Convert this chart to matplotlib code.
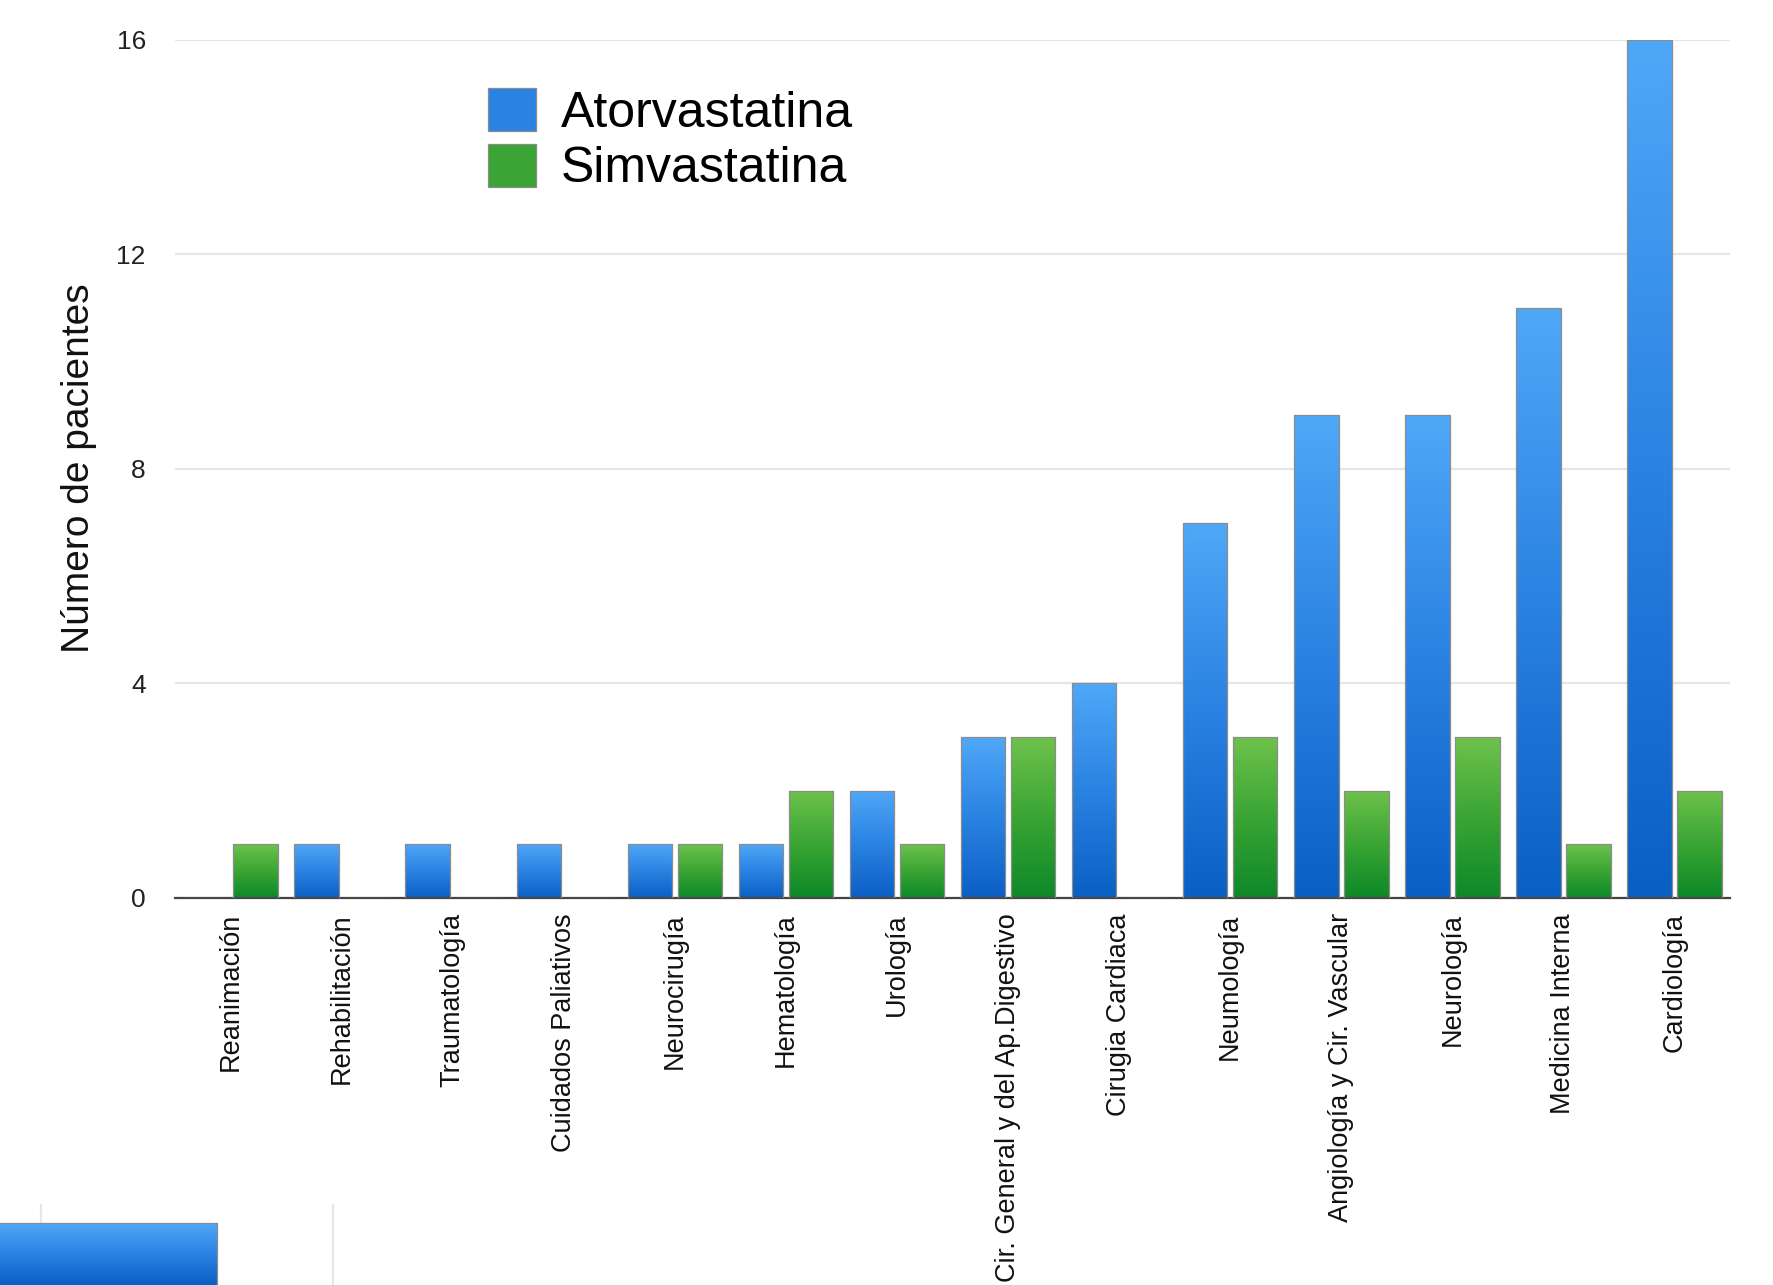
import numpy as np
import matplotlib.pyplot as plt
from matplotlib.colors import LinearSegmentedColormap
from matplotlib.patches import Patch
from matplotlib.lines import Line2D

servicios = ["Reanimación", "Rehabilitación", "Traumatología", "Cuidados Paliativos",
             "Neurocirugía", "Hematología", "Urología", "Cir. General y del Ap.Digestivo",
             "Cirugia Cardiaca", "Neumología", "Angiología y Cir. Vascular", "Neurología",
             "Medicina Interna", "Cardiología"]
atorvastatina = [0, 1, 1, 1, 1, 1, 2, 3, 4, 7, 9, 9, 11, 16]
simvastatina = [1, 0, 0, 0, 1, 2, 1, 3, 0, 3, 2, 3, 1, 2]
yticks = [0, 4, 8, 12, 16]

plt.rcParams["font.family"] = ["Liberation Sans", "DejaVu Sans"]

fig = plt.figure(figsize=(17.73, 12.85), dpi=100)
ax = fig.add_axes([0.0987, 0.3012, 0.8771, 0.6677])

azul = LinearSegmentedColormap.from_list("azul", ["#0a5fc4", "#2a82e2", "#4fa8f7"])
verde = LinearSegmentedColormap.from_list("verde", ["#0d8828", "#3aa534", "#6ec24b"])
grad = np.linspace(0, 1, 256).reshape(-1, 1)

x = np.arange(len(servicios))
w = 0.40


def barras(pos, vals, cmap):
    # bar outline + vertical gradient clipped to each bar
    bars = ax.bar(pos, vals, w, color="none", edgecolor="#8c8c8c", linewidth=0.9, zorder=3)
    for b in bars:
        h = b.get_height()
        if h <= 0:
            continue
        x0 = b.get_x()
        im = ax.imshow(grad, cmap=cmap, origin="lower", aspect="auto",
                       extent=[x0, x0 + w, 0, h], zorder=2)
        im.set_clip_path(b)
    return bars


barras(x - 0.225, atorvastatina, azul)
barras(x + 0.225, simvastatina, verde)

ax.set_xlim(-0.5, len(servicios) - 0.5)
ax.set_ylim(0, 16)
ax.set_yticks(yticks)
ax.set_yticklabels([str(t) for t in yticks], fontsize=19, color="#222222")
ax.set_xticks(x)
ax.set_xticklabels(servicios, rotation=90, fontsize=19.5, color="#111111")
ax.tick_params(axis="y", length=0, pad=21)
ax.tick_params(axis="x", length=0, pad=11)

ax.set_axisbelow(True)
ax.grid(axis="y", color="#e6e6e6", linewidth=1.6)
for s in ["top", "right", "left"]:
    ax.spines[s].set_visible(False)
ax.spines["bottom"].set_color("#444444")
ax.spines["bottom"].set_linewidth(1.6)

fig.text(79 / 1773, 1 - 468 / 1285, "Número de pacientes", rotation=90,
         ha="center", va="center", fontsize=28, color="#111111")

handles = [Patch(facecolor="#2a82e2", edgecolor="#8c8c8c", linewidth=0.9),
           Patch(facecolor="#3aa534", edgecolor="#8c8c8c", linewidth=0.9)]
fig.legend(handles, ["Atorvastatina", "Simvastatina"], loc="upper left",
           bbox_to_anchor=(488 / 1773, 1 - 88 / 1285), frameon=False, fontsize=36,
           handlelength=0.95, handleheight=0.95, handletextpad=0.5,
           labelspacing=0.14, borderpad=0, borderaxespad=0)

# pieza cortada de otro gráfico en la esquina inferior
for xf, y0 in [(41 / 1773, 62 / 1285), (333 / 1773, 0)]:
    fig.add_artist(Line2D([xf, xf], [y0, 80 / 1285], color="#e6e6e6", linewidth=1.6))
corte = fig.add_axes([0, 0, 217 / 1773, 62 / 1285])
corte.imshow(grad, cmap=azul, origin="lower", aspect="auto", extent=[0, 1, 0, 1])
corte.set_axis_off()
fig.add_artist(Line2D([0, 217 / 1773, 217 / 1773], [62 / 1285, 62 / 1285, 0],
                      color="#8c8c8c", linewidth=0.9))

fig.savefig("out.png", dpi=100)
